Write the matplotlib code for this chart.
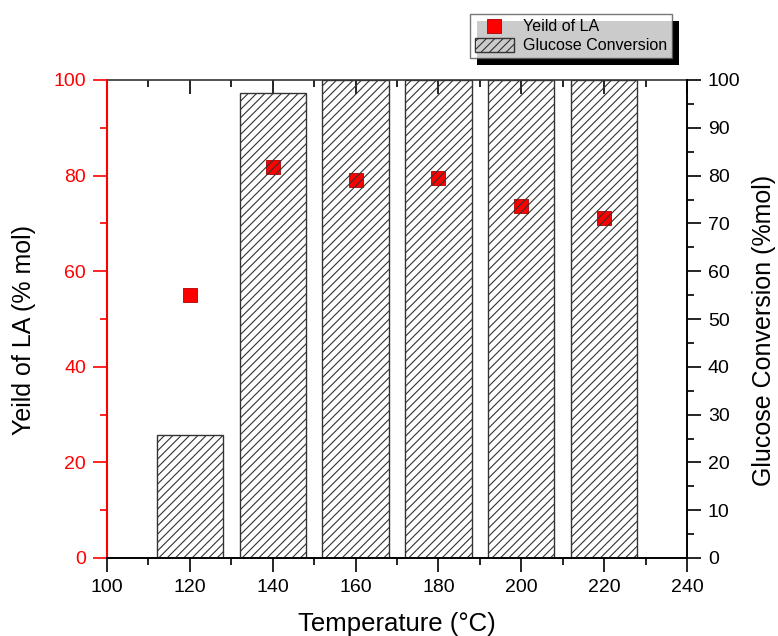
import matplotlib
matplotlib.use("Agg")
import matplotlib.pyplot as plt
from matplotlib.patches import Rectangle
from matplotlib.ticker import MultipleLocator

plt.rcParams["font.family"] = ["Liberation Sans", "DejaVu Sans"]
plt.rcParams["hatch.linewidth"] = 0.8

# data
temps = [120, 140, 160, 180, 200, 220]
yield_la = [55.0, 81.8, 79.1, 79.5, 73.6, 71.1]
conversion = [25.7, 97.3, 100, 100, 100, 100]

fig = plt.figure(figsize=(7.78, 6.36), dpi=100)
ax = fig.add_axes([107 / 778, 1 - 558 / 636, 580 / 778, 478 / 636])
ax2 = ax.twinx()

# scatter under the bars (bars have no fill, hatch goes over the markers)
sc = ax.scatter(temps, yield_la, marker="s", s=110, color="#ff0000",
                edgecolors="#b00000", linewidths=0.6, zorder=2,
                label="Yeild of LA")
bars = ax2.bar(temps, conversion, width=16, facecolor="none",
               edgecolor="#333333", hatch="////", linewidth=1.0,
               label="Glucose Conversion")

ax.set_xlim(100, 240)
ax.set_ylim(0, 100)
ax2.set_ylim(0, 100)

ax.xaxis.set_major_locator(MultipleLocator(20))
ax.xaxis.set_minor_locator(MultipleLocator(10))
ax.yaxis.set_major_locator(MultipleLocator(20))
ax.yaxis.set_minor_locator(MultipleLocator(10))
ax2.yaxis.set_major_locator(MultipleLocator(10))
ax2.yaxis.set_minor_locator(MultipleLocator(5))

ax.tick_params(axis="x", which="major", direction="out", length=10, width=1.2,
               labelsize=14, pad=5)
ax.tick_params(axis="x", which="minor", direction="out", length=5, width=1.2)
ax.tick_params(axis="y", which="major", direction="out", length=10, width=1.2,
               labelsize=14, colors="#ff0000", pad=5)
ax.tick_params(axis="y", which="minor", direction="out", length=5, width=1.2,
               colors="#ff0000")
ax2.tick_params(axis="y", which="major", direction="out", length=10, width=1.2,
                labelsize=14, pad=5)
ax2.tick_params(axis="y", which="minor", direction="out", length=5, width=1.2)

# top axis: inward ticks, no labels
top = ax.secondary_xaxis("top")
top.xaxis.set_major_locator(MultipleLocator(20))
top.xaxis.set_minor_locator(MultipleLocator(10))
top.tick_params(which="major", direction="in", length=10, width=1.2,
                labeltop=False)
top.tick_params(which="minor", direction="in", length=5, width=1.2)
top.spines["top"].set_linewidth(1.2)
top.spines["top"].set_color("#333333")

for s in ["top", "bottom", "right"]:
    ax.spines[s].set_linewidth(1.2)
ax.spines["left"].set_color("#ff0000")
ax.spines["left"].set_linewidth(1.5)
ax2.spines["left"].set_visible(False)
ax2.spines["right"].set_linewidth(1.2)
ax2.spines["bottom"].set_linewidth(1.2)
ax2.spines["top"].set_visible(False)
ax.spines["top"].set_visible(False)

ax.set_xlabel("Temperature (°C)", fontsize=18.5, labelpad=12)
ax.set_ylabel("Yeild of LA (% mol)", fontsize=18, va="center")
ax2.set_ylabel("Glucose Conversion (%mol)", fontsize=18, rotation=90,
               va="center")
ax.yaxis.set_label_coords(-0.143, 0.477)
ax2.yaxis.set_label_coords(1.133, 0.477)

leg = fig.legend(handles=[sc, bars], loc="upper right",
                 bbox_to_anchor=(672 / 778, 1 - 14 / 636),
                 bbox_transform=fig.transFigure, borderaxespad=0,
                 fancybox=False, fontsize=11.5, handlelength=2.4,
                 handleheight=1.0, labelspacing=0.2, borderpad=0.3,
                 handletextpad=0.6)
leg.get_frame().set_edgecolor("#555555")
leg.get_frame().set_linewidth(1.0)

# offset black shadow behind the legend box
fig.canvas.draw()
bb = leg.get_window_extent()
W, H = fig.bbox.width, fig.bbox.height
shadow = Rectangle(((bb.x0 + 7) / W, (bb.y0 - 7) / H), bb.width / W,
                   bb.height / H, transform=fig.transFigure,
                   facecolor="black", edgecolor="none", zorder=leg.get_zorder() - 1)
fig.add_artist(shadow)

fig.savefig("out.png", dpi=100)
